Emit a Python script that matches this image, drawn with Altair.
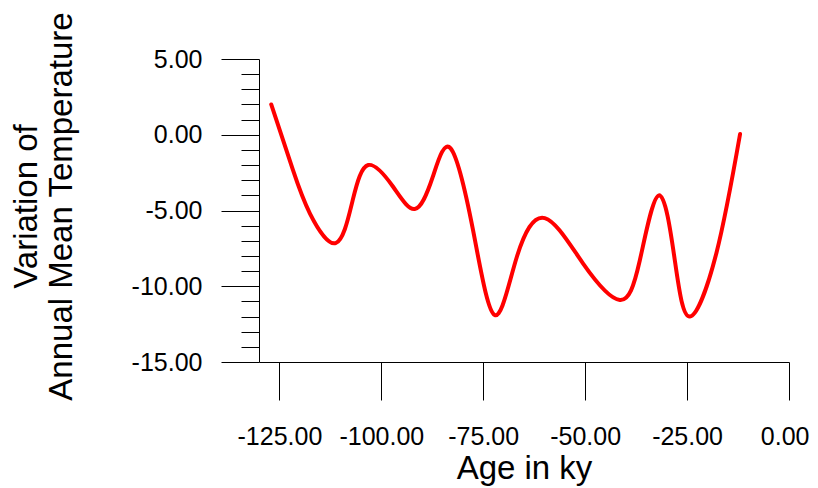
import altair as alt
import pandas as pd

# Curve values (age in ky, temperature variation)
age = [-127.0, -121.7, -117.5, -111.2, -107.0, -103.2, -97.2, -91.8, -87.4, -83.0,
       -77.5, -72.2, -66.8, -59.9, -50.5, -41.5, -36.6, -31.9, -28.0, -24.3, -17.8, -12.0]
temp = [2.0, -2.3, -5.2, -7.15, -4.3, -2.0, -3.4, -4.9, -2.8, -0.9,
        -6.3, -11.9, -8.1, -5.5, -8.5, -10.9, -8.3, -4.0, -8.3, -12.0, -7.8, 0.05]

x_ticks = [-125, -100, -75, -50, -25, 0]
y_major = [-15, -10, -5, 0, 5]
y_minor = [v for v in range(-15, 6) if v % 5 != 0]

df = pd.DataFrame({"age": age, "temp": temp})

FONT = "Liberation Sans"
LABEL_EXPR = "replace(format(datum.value, '.2f'), '\u2212', '-')"

x_enc = alt.X(
    "age:Q",
    scale=alt.Scale(domain=[-130, 0], nice=False, zero=False),
    axis=alt.Axis(
        values=x_ticks, labelExpr=LABEL_EXPR, tickSize=38, tickColor="black", tickWidth=1,
        domainColor="black", domainWidth=1, grid=False,
        labelFont=FONT, labelFontSize=25, labelColor="black", labelPadding=24,
        labelBaseline="top", labelFlush=True, labelFlushOffset=20, labelOverlap=False,
        title="Age in ky", titleFont=FONT, titleFontSize=33, titleFontWeight="normal",
        titleColor="black", titleBaseline="alphabetic", titleY=116,
    ),
)

line = alt.Chart(df).mark_line(
    color="#ff0000", strokeWidth=4, interpolate="natural", strokeCap="round"
).encode(
    x=x_enc,
    y=alt.Y(
        "temp:Q",
        scale=alt.Scale(domain=[-15, 5], nice=False, zero=False),
        axis=alt.Axis(
            orient="left", values=y_major, labelExpr=LABEL_EXPR, tickSize=38, tickColor="black",
            tickWidth=1, domainColor="black", domainWidth=1, grid=False,
            labelFont=FONT, labelFontSize=25, labelColor="black", labelPadding=19,
            labelFlush=False, labelOverlap=False,
            title=["Variation of", "Annual Mean Temperature"], titleFont=FONT,
            titleFontSize=33, titleFontWeight="normal", titleColor="black",
            titleAngle=270, titleBaseline="middle", titleAlign="center",
            titleLineHeight=35, titleX=-233, titleY=147,
        ),
    ),
)

minor = alt.Chart(df).mark_line(strokeOpacity=0).encode(
    x=alt.X("age:Q", scale=alt.Scale(domain=[-130, 0], nice=False, zero=False)),
    y=alt.Y(
        "temp:Q",
        scale=alt.Scale(domain=[-15, 5], nice=False, zero=False),
        axis=alt.Axis(
            orient="left", values=y_minor, tickSize=18, tickColor="black", tickWidth=1,
            domain=False, labels=False, grid=False, title=None,
        ),
    ),
)

chart = alt.layer(line, minor).resolve_axis(y="independent").properties(
    width=530, height=303,
    autosize=alt.AutoSizeParams(type="none"),
    padding={"left": 251, "top": 51, "right": 21, "bottom": 126},
    background="white",
).configure_view(strokeOpacity=0)

chart.save("out.html", embed_options={"renderer": "svg", "actions": False})
